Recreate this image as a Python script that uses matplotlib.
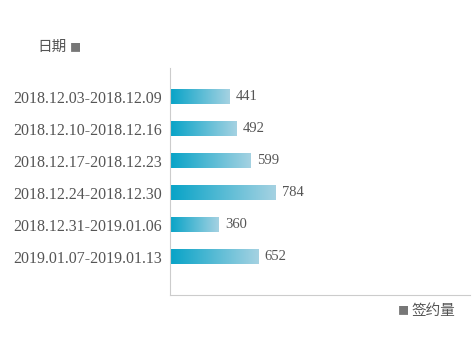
import numpy as np
import matplotlib.pyplot as plt
from matplotlib.colors import LinearSegmentedColormap

plt.rcParams['font.family'] = ['Noto Sans CJK SC', 'DejaVu Sans']

weeks = ['2018.12.03-2018.12.09', '2018.12.10-2018.12.16', '2018.12.17-2018.12.23',
         '2018.12.24-2018.12.30', '2018.12.31-2019.01.06', '2019.01.07-2019.01.13']
signed = [441, 492, 599, 784, 360, 652]

grad = LinearSegmentedColormap.from_list('bar', ['#07a3c7', '#a5d2e2'])
text_c = '#555555'
line_c = '#cccccc'

fig = plt.figure(figsize=(4.75, 3.38), dpi=100)
ax = fig.add_axes([170 / 475, 43 / 338, 300 / 475, 227 / 338])

y = np.arange(len(weeks))
h = 0.44
xmax = 2220
ramp = np.linspace(0, 1, 256).reshape(1, -1)
for yi, v in zip(y, signed):
    ax.imshow(ramp, cmap=grad, aspect='auto', interpolation='bilinear',
              extent=(0, v, yi + h / 2, yi - h / 2), zorder=2)
    ax.annotate(str(v), (v, yi), xytext=(4.5, 0), textcoords='offset points',
                va='center', ha='left', fontsize=10.5, color=text_c,
                family='Liberation Serif')

ax.set_xlim(0, xmax)
ax.set_ylim(len(weeks) - 1 + 1.19, -0.9)
ax.set_yticks(y)
ax.set_yticklabels(weeks, family='Liberation Serif', fontsize=11.5, color=text_c)
ax.tick_params(axis='y', length=0, pad=6)
ax.set_xticks([])
for side in ['top', 'right']:
    ax.spines[side].set_visible(False)
ax.spines['left'].set_color(line_c)
ax.spines['bottom'].set_color(line_c)

fig.text(37 / 475, 1 - 47 / 338, '日期', fontsize=10.5, color=text_c, va='center', ha='left')
fig.text(70 / 475, 1 - 48 / 338, '■', fontsize=8, color='#777777', va='center', ha='left')
fig.text(398 / 475, 1 - 311 / 338, '■', fontsize=8, color='#777777', va='center', ha='left')
fig.text(411 / 475, 1 - 311 / 338, '签约量', fontsize=10.5, color=text_c, va='center', ha='left')

fig.savefig('out.png', dpi=100)
